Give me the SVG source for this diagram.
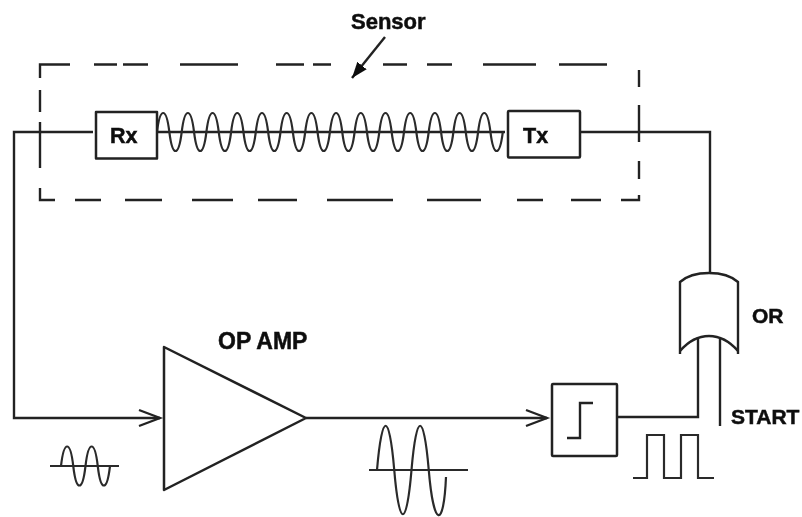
<svg xmlns="http://www.w3.org/2000/svg" width="802" height="517" viewBox="0 0 802 517">
<style>
.l{fill:none;stroke:#222;stroke-width:2.4}
.w{fill:none;stroke:#2b2b2b;stroke-width:2.2}
.b{fill:#fff;stroke:#222;stroke-width:2.5;stroke-linejoin:round}
text{font-family:"Liberation Sans",Arial,sans-serif;font-weight:700;fill:#111;stroke:#111;stroke-width:0.5}
</style>
<defs>
<filter id="soft" x="0" y="0" width="100%" height="100%" filterUnits="userSpaceOnUse"><feGaussianBlur stdDeviation="0.5"/></filter>
<marker id="open" markerUnits="userSpaceOnUse" markerWidth="26" markerHeight="22" refX="22" refY="11" orient="auto"><path d="M1,3 L22,11 L1,19" fill="none" stroke="#222" stroke-width="2.300"/></marker>
<marker id="solid" markerUnits="userSpaceOnUse" markerWidth="18" markerHeight="14" refX="16" refY="7" orient="auto"><path d="M0,1 L16,7 L0,13 Z" fill="#111"/></marker>
</defs>
<rect width="802" height="517" fill="#fff"/>
<g filter="url(#soft)">
<g id="connectors">
<path class="l" d="M93,132 H14 V418 H160" marker-end="url(#open)"/>
<path class="l" d="M157,132 H505"/>
<path class="l" d="M580,132 H710 V273"/>
<path class="l" d="M306,418 H547" marker-end="url(#open)"/>
<path class="l" d="M617,417 H698 V337"/>
<path class="l" d="M720,338 V426"/>
<path class="l" d="M385,37 L352,78" marker-end="url(#solid)"/>
</g>
<g id="sensor">
<path class="l" d="M40,78 V64.500 H70 M94,64.500 H117 M123,64.500 H148 M180,64.500 H238 M276,64.500 H304 M313,64.500 H331 M383,64.500 H407 M427,64.500 H452 M483,64.500 H536 M559,64.500 H607"/>
<path class="l" d="M40,90 V112 M40,122 V168 M40,188 V200 H55 M75,200 H101 M125,200 H162 M192,200 H233 M258,200 H297 M327,200 H393 M427,200 H481 M517,200 H543 M571,200 H601 M621,200 H639 V195"/>
<path class="l" d="M639,70 V87 M639,105 V142 M639,161 V179"/>
<text x="351" y="29" font-size="22">Sensor</text>
</g>
<path id="coil" class="w" d="M157,132 c3.100,-25.300 9.250,-25.300 12.350,0 s9.250,25.300 12.350,0 s9.250,-25.300 12.350,0 s9.250,25.300 12.350,0 s9.250,-25.300 12.350,0 s9.250,25.300 12.350,0 s9.250,-25.300 12.350,0 s9.250,25.300 12.350,0 s9.250,-25.300 12.350,0 s9.250,25.300 12.350,0 s9.250,-25.300 12.350,0 s9.250,25.300 12.350,0 s9.250,-25.300 12.350,0 s9.250,25.300 12.350,0 s9.250,-25.300 12.350,0 s9.250,25.300 12.350,0 s9.250,-25.300 12.350,0 s9.250,25.300 12.350,0 s9.250,-25.300 12.350,0 s9.250,25.300 12.350,0 s9.250,-25.300 12.350,0 s9.250,25.300 12.350,0 s9.250,-25.300 12.350,0 s9.250,25.300 12.350,0 s9.250,-25.300 12.350,0 s9.250,25.300 12.350,0 s9.250,-25.300 12.350,0 s9.250,25.300 12.350,0"/>
<g id="rx"><rect class="b" x="96" y="112" width="61" height="46.500"/><text x="110" y="143" font-size="21.500">Rx</text></g>
<g id="tx"><rect class="b" x="508" y="111" width="72" height="46.500" rx="1"/><text x="523" y="143" font-size="21.500">Tx</text></g>
<g id="opamp"><path class="b" d="M164,347 L306,418 L164,490 Z"/><text x="218" y="349" font-size="23">OP AMP</text></g>
<g id="comparator"><rect class="b" x="552" y="384" width="65" height="72" rx="1"/><path class="l" d="M567,438 H580 V403 H593"/></g>
<g id="or-gate"><path class="l" d="M680,354 V282 Q690,273 709,273 Q728,273 738,282 V354"/><path class="l" d="M680,351 Q693,336 709,336 Q725,336 738,351"/><text x="752" y="323" font-size="21">OR</text></g>
<g id="start-label"><text x="731" y="424" font-size="21">START</text></g>
<g id="wave-in"><path class="w" d="M50,466 H119"/><path class="w" d="M61,466 c3,-26 9.250,-26 12.250,0 s9.250,26 12.250,0 s9.250,-26 12.250,0 s9.250,26 12.250,0"/></g>
<g id="wave-out"><path class="w" d="M369,470 H468"/><path class="w" d="M377,470 c5,-59 12.250,-59 17.250,0 s12.250,59 17.250,0 s12.250,-59 17.250,0 c5,59 15,59 17.250,7"/></g>
<g id="pulse"><path class="w" d="M633,478 H647 V435 H664 V478 H681 V435 H698 V478 H714"/></g>
</g>
</svg>
